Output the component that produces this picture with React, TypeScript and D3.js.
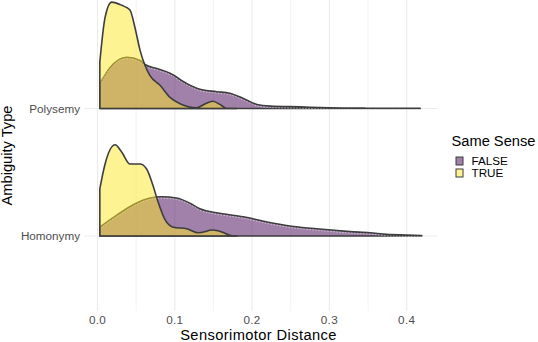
import React from "react";
import * as d3 from "d3";

// ambiguity levels, bottom to top
const categories = ["Homonymy", "Polysemy"];
const senseLevels = ["FALSE", "TRUE"];
const senseColors = ["#440154", "#FDE725"];
const xTicks = [0, 0.1, 0.2, 0.3, 0.4];
const xMinor = [0.05, 0.15, 0.25, 0.35];

// density estimates [distance, density]
const polysemyFalse = [
    [0.003, 3.1], [0.0162, 5.1], [0.0378, 6.4], [0.055, 6.0], [0.0614, 5.5],
    [0.0765, 5.0], [0.0938, 4.4], [0.1157, 3.1], [0.1324, 2.4], [0.1541, 2.1],
    [0.171, 1.9], [0.1887, 1.25], [0.2064, 0.5], [0.2232, 0.3], [0.2617, 0.2],
    [0.2992, 0.09], [0.3485, 0.04], [0.4175, 0.02]
];
const polysemyTrue = [
    [0.003, 5.8], [0.0098, 11.4], [0.0183, 13.3], [0.0314, 12.9], [0.042, 12.3],
    [0.0485, 10.1], [0.055, 7.3], [0.0614, 5.4], [0.0679, 4.1], [0.0809, 2.9],
    [0.0938, 1.4], [0.1068, 0.6], [0.1285, 0.1], [0.1394, 0.6], [0.1492, 0.9],
    [0.16, 0.4], [0.167, 0.0], [0.18, 0.0]
];
const homonymyFalse = [
    [0.003, 1.1], [0.025, 2.6], [0.0463, 3.9], [0.068, 4.75], [0.0831, 4.9],
    [0.102, 4.75], [0.1196, 4.1], [0.1324, 3.4], [0.1541, 2.9], [0.1887, 2.4],
    [0.2193, 1.75], [0.2488, 1.25], [0.2834, 0.9], [0.3268, 0.55], [0.3524, 0.4],
    [0.3741, 0.2], [0.3997, 0.12], [0.4195, 0.06]
];
const homonymyTrue = [
    [0.003, 5.9], [0.0098, 9.0], [0.0227, 11.4], [0.0313, 10.5], [0.042, 9.0],
    [0.055, 9.0], [0.0634, 8.4], [0.0718, 6.3], [0.0782, 4.3], [0.087, 2.1],
    [0.098, 1.1], [0.1157, 0.9], [0.1305, 0.4], [0.1492, 0.75], [0.161, 0.5],
    [0.171, 0.1], [0.18, 0.0]
];

const ridges = [
    { category: "Homonymy", sense: "FALSE", values: homonymyFalse },
    { category: "Homonymy", sense: "TRUE", values: homonymyTrue },
    { category: "Polysemy", sense: "FALSE", values: polysemyFalse },
    { category: "Polysemy", sense: "TRUE", values: polysemyTrue }
];

const width = 538;
const height = 342;
const panel = { left: 84, right: 438, top: 0, bottom: 311 };
const font = "'Liberation Sans', Arial, Helvetica, sans-serif";

export default function App() {
    const x = d3.scaleLinear().domain([0, 0.4]).range([97.5, 406.7]);
    const y = d3.scalePoint().domain(categories).range([236, 108.5]);
    const h = d3.scaleLinear().domain([0, 16]).range([0, 128]);
    const color = d3.scaleOrdinal().domain(senseLevels).range(senseColors);

    const ridgePath = (values, base) =>
        d3
            .area()
            .x(d => x(d[0]))
            .y0(base)
            .y1(d => base - h(d[1]))
            .curve(d3.curveMonotoneX)(values);

    // thin light dashes that sit just under the FALSE outline
    const topLine = (values, base) =>
        d3
            .line()
            .x(d => x(d[0]))
            .y(d => base - h(d[1]) + 1.4)
            .curve(d3.curveMonotoneX)(values);

    return (
        <svg
            width={width}
            height={height}
            style={{ position: "absolute", left: 0, top: 0, display: "block", background: "white" }}
            fontFamily={font}
        >
            <g className="grid">
                {xMinor.map(t => (
                    <line key={"m" + t} x1={x(t)} x2={x(t)} y1={panel.top} y2={panel.bottom}
                        stroke="#f2f2f2" strokeWidth={0.9} />
                ))}
                {xTicks.map(t => (
                    <line key={"M" + t} x1={x(t)} x2={x(t)} y1={panel.top} y2={panel.bottom}
                        stroke="#ebebeb" strokeWidth={1.1} />
                ))}
                {categories.map(c => (
                    <line key={c} x1={panel.left} x2={panel.right} y1={y(c)} y2={y(c)}
                        stroke="#ebebeb" strokeWidth={1.1} />
                ))}
            </g>

            <g className="ridges">
                {ridges.map((r, i) => {
                    const base = y(r.category);
                    return (
                        <g key={i}>
                            <path
                                d={ridgePath(r.values, base)}
                                fill={color(r.sense)}
                                fillOpacity={0.5}
                                stroke="#3d3d3d"
                                strokeWidth={1.6}
                                strokeLinejoin="round"
                            />
                            {r.sense === "FALSE" && (
                                <path
                                    d={topLine(r.values, base)}
                                    fill="none"
                                    stroke="white"
                                    strokeWidth={0.7}
                                    strokeDasharray="1.5 1.5"
                                    opacity={0.75}
                                />
                            )}
                        </g>
                    );
                })}
            </g>

            <g className="axis axis--x" fontSize={11.7} fill="#4d4d4d" textAnchor="middle">
                {xTicks.map(t => (
                    <text key={t} x={x(t)} y={324} letterSpacing={0.3}>{d3.format(".1f")(t)}</text>
                ))}
            </g>
            <g className="axis axis--y" fontSize={11.7} fill="#4d4d4d" textAnchor="end">
                {categories.map(c => (
                    <text key={c} x={80} y={y(c)} dy="0.35em">{c}</text>
                ))}
            </g>

            <text x={258.5} y={340.3} textAnchor="middle" letterSpacing={0.4}
                fontSize={14.67} fill="black">Sensorimotor Distance</text>
            <text transform={`translate(11.5,${(panel.top + panel.bottom) / 2}) rotate(-90)`}
                textAnchor="middle" fontSize={14.67} fill="black">Ambiguity Type</text>

            <g className="legend">
                <text x={451.5} y={146} fontSize={14.67} fill="black">Same Sense</text>
                {senseLevels.map((s, i) => (
                    <g key={s} transform={`translate(456,${157 + i * 12})`}>
                        <rect x={0} y={0} width={7} height={8} fill="white" />
                        <rect x={0} y={0} width={7} height={8} fill={color(s)} fillOpacity={0.5}
                            stroke="#3d3d3d" strokeWidth={1} />
                        <text x={15.5} y={4} dy="0.35em" fontSize={11.7} fill="black">{s}</text>
                    </g>
                ))}
            </g>
        </svg>
    );
}
